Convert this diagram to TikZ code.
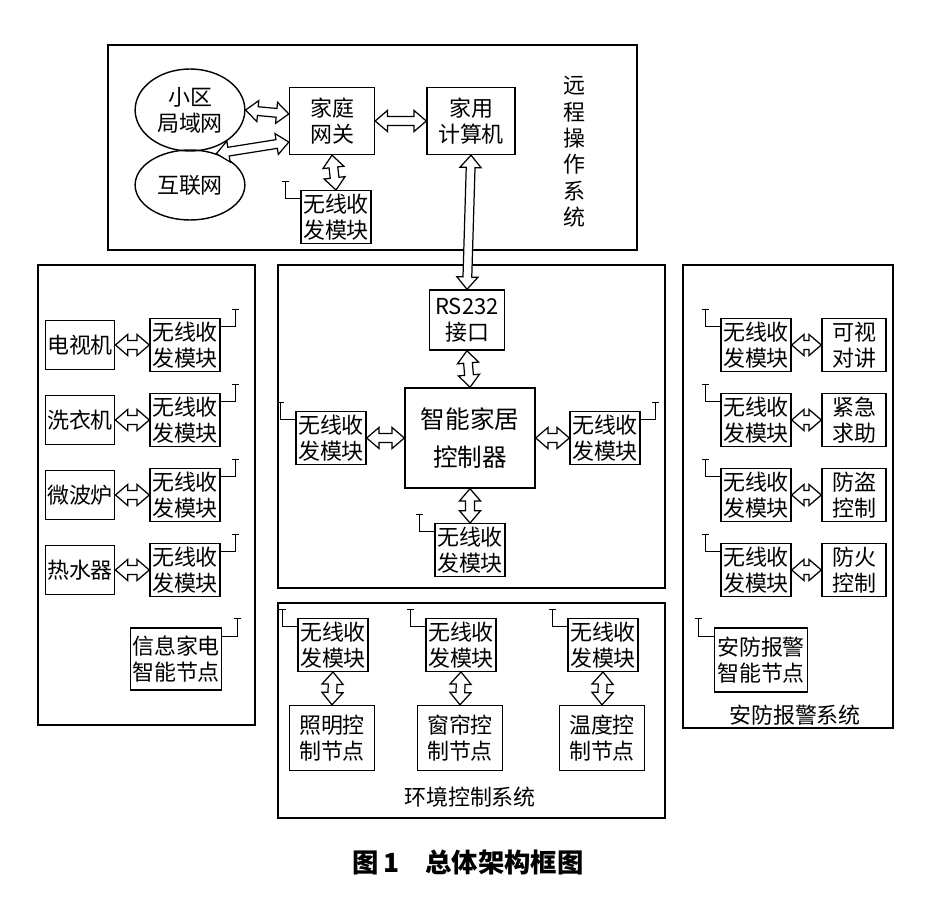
\documentclass[tikz,border=0pt]{standalone}
\usepackage{fontspec}
\setmainfont{Noto Sans CJK SC}
\usetikzlibrary{calc,shapes.geometric}
\tikzset{
  box/.style={draw, line width=0.8pt, align=center, inner sep=1pt, font=\fontsize{12.5}{15}\selectfont},
  mod/.style={box, minimum width=1.4cm, minimum height=1.05cm},
  frame/.style={draw, line width=0.9pt},
  dbl/.style={draw, fill=white, line width=0.7pt, line join=miter},
  net/.style={draw, ellipse, line width=0.8pt, font=\fontsize{12.5}{15}\selectfont, align=center}
}
% hollow double arrow between two points
\newcommand\dblarrow[2]{
  \coordinate (h1) at ($(#1)!7pt!(#2)$);
  \coordinate (h2) at ($(#2)!7pt!(#1)$);
  \draw[dbl] (#1) -- ($(h1)!6pt!90:(#2)$) -- ($(h1)!2.5pt!90:(#2)$) -- ($(h2)!2.5pt!-90:(#1)$)
    -- ($(h2)!6pt!-90:(#1)$) -- (#2) -- ($(h2)!6pt!90:(#1)$) -- ($(h2)!2.5pt!90:(#1)$)
    -- ($(h1)!2.5pt!-90:(#2)$) -- ($(h1)!6pt!-90:(#2)$) -- cycle;
}
\newcommand\antL[1]{\draw[line width=0.6pt] ([yshift=-5pt]#1.north west) -- ++(-0.3cm,0) -- ++(0,0.35cm) ++(-0.07cm,0) -- ++(0.14cm,0);}
\newcommand\antR[1]{\draw[line width=0.6pt] ([yshift=-5pt]#1.north east) -- ++(0.3cm,0) -- ++(0,0.35cm) ++(-0.07cm,0) -- ++(0.14cm,0);}
\begin{document}
\begin{tikzpicture}[x=0.02cm,y=-0.02cm]
  \useasboundingbox (0,0) rectangle (936,918);
  % frames
  \draw[frame] (108,45) rectangle (637,250);
  \draw[frame] (38,265) rectangle (255,725);
  \draw[frame] (278,265) rectangle (665,588);
  \draw[frame] (278,603) rectangle (665,818);
  \draw[frame] (683,265) rectangle (893,728);
  % remote operation system
  \node[net, minimum width=2.05cm, minimum height=1.5cm] (lan) at (190,110) {小区\\局域网};
  \node[net, minimum width=2cm, minimum height=1.4cm] (inet) at (190,185) {互联网};
  \node[box, minimum width=1.7cm, minimum height=1.34cm] (gw) at (332,121) {家庭\\网关};
  \node[box, minimum width=1.76cm, minimum height=1.34cm] (pc) at (471,121) {家用\\计算机};
  \node[mod] (gwm) at (336,217) {无线收\\发模块};
  \node[font=\fontsize{12.5}{15}\selectfont, align=center] at (574,152) {远\\程\\操\\作\\系\\统};
  \coordinate (gwup) at ([yshift=4pt]gw.west);
  \coordinate (gwin) at ([yshift=-12pt]gw.west);
  \dblarrow{lan.east}{gwup}
  \dblarrow{inet.50}{gwin}
  \dblarrow{gw.east}{pc.west}
  \dblarrow{gw.south}{gwm.north}
  \antL{gwm}
  % controller
  \node[box, minimum width=1.5cm, minimum height=1.2cm] (rs) at (467,320) {RS232\\接口};
  \node[box, minimum width=2.6cm, minimum height=2cm, font=\fontsize{14}{22}\selectfont] (ctl) at (470,438) {智能家居\\控制器};
  \node[mod] (cl) at (331,438) {无线收\\发模块};
  \node[mod] (cr) at (605,438) {无线收\\发模块};
  \node[mod] (cb) at (470,550) {无线收\\发模块};
  \dblarrow{pc.south}{rs.north}
  \dblarrow{rs.south}{ctl.north}
  \dblarrow{cl.east}{ctl.west}
  \dblarrow{ctl.east}{cr.west}
  \dblarrow{ctl.south}{cb.north}
  \antL{cl} \antR{cr} \antL{cb}
  % appliances
  \foreach \y/\name [count=\i] in {345/电视机,420/洗衣机,495/微波炉,570/热水器}{
    \node[box, minimum width=1.3cm, minimum height=0.98cm] (app\i) at (80,\y) {\name};
    \node[mod] (appm\i) at (185,\y) {无线收\\发模块};
    \dblarrow{app\i.east}{appm\i.west}
    \antR{appm\i}
  }
  \node[box, minimum width=1.74cm, minimum height=1.24cm] (info) at (176,659) {信息家电\\智能节点};
  \antR{info}
  % security
  \foreach \y/\name [count=\i] in {345/可视\\对讲,420/紧急\\求助,495/防盗\\控制,570/防火\\控制}{
    \node[mod] (secm\i) at (756,\y) {无线收\\发模块};
    \node[box, minimum width=1.28cm, minimum height=1.05cm] (sec\i) at (854,\y) {\name};
    \dblarrow{secm\i.east}{sec\i.west}
    \antL{secm\i}
  }
  \node[box, minimum width=1.86cm, minimum height=1.28cm] (alarm) at (761,660) {安防报警\\智能节点};
  \antL{alarm}
  \node[font=\fontsize{12.5}{15}\selectfont] at (795,715) {安防报警系统};
  % environment
  \foreach \x/\name [count=\i] in {332/照明控\\制节点,460/窗帘控\\制节点,602/温度控\\制节点}{
    \node[mod] (envm\i) at (\x+1,645) {无线收\\发模块};
    \node[box, minimum width=1.7cm, minimum height=1.3cm] (env\i) at (\x,738) {\name};
    \dblarrow{envm\i.south}{env\i.north}
    \antL{envm\i}
  }
  \node[font=\fontsize{12.5}{15}\selectfont] at (470,797) {环境控制系统};
  % caption
  \node[font=\bfseries\fontsize{15}{18}\selectfont] at (468,862) {图\,1\quad 总体架构框图};
\end{tikzpicture}
\end{document}
